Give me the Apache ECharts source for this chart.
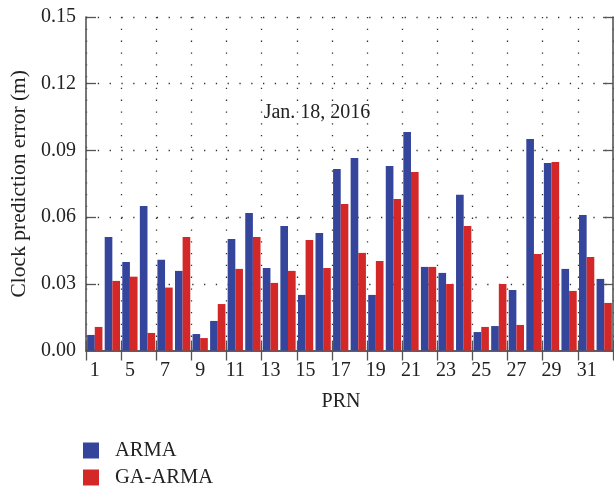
<!DOCTYPE html>
<html>
<head>
<meta charset="utf-8">
<script src="https://cdn.jsdelivr.net/npm/echarts@6/dist/echarts.min.js"></script>
<style>html,body{margin:0;padding:0;background:#fff;}#c{width:614px;height:486px;}</style>
</head>
<body>
<div id="c"></div>
<script>
const categories = ['1','3','5','6','7','8','9','10','11','12','13','14','15','16','17','18','19','20','21','22','23','24','25','26','27','28','29','30','31','32'];
const arma = [0.0070,0.0510,0.0398,0.0650,0.0408,0.0358,0.0074,0.0133,0.0502,0.0619,0.0371,0.0560,0.0250,0.0529,0.0816,0.0866,0.0250,0.0830,0.0983,0.0376,0.0349,0.0700,0.0083,0.0110,0.0272,0.0951,0.0843,0.0367,0.0610,0.0322];
const gaArma = [0.0106,0.0313,0.0332,0.0079,0.0283,0.0510,0.0056,0.0209,0.0367,0.0511,0.0304,0.0358,0.0497,0.0371,0.0659,0.0439,0.0403,0.0681,0.0803,0.0376,0.0299,0.0560,0.0106,0.0299,0.0115,0.0434,0.0848,0.0268,0.0420,0.0214];
const yTicks = [0, 0.03, 0.06, 0.09, 0.12, 0.15];

const FONT = 'Liberation Serif';
const AXIS = '#555';
const DOT = {color: '#333', width: 1.3, type: [1.3, 10.5]};
const legendCommon = {
  orient: 'vertical', left: 83, itemWidth: 16, itemHeight: 16, padding: 0,
  icon: 'rect',
  textStyle: {fontFamily: FONT, fontSize: 20.5, color: '#222', padding: [0, 0, 0, 11]}
};

const chart = echarts.init(document.getElementById('c'), null, {renderer: 'canvas'});
chart.setOption({
  animation: false,
  backgroundColor: '#fff',
  textStyle: {fontFamily: FONT},
  grid: {left: 85, right: 1, top: 17, bottom: 135.5, containLabel: false},
  legend: [
    Object.assign({top: 440, data: ['ARMA']}, legendCommon),
    Object.assign({top: 467, data: ['GA-ARMA']}, legendCommon)
  ],
  graphic: [
    {type: 'text', x: 317, y: 113, style: {text: 'Jan. 18, 2016', font: '20px "Liberation Serif"', fill: '#222', align: 'center', verticalAlign: 'middle'}},
    {type: 'text', x: 341, y: 402, style: {text: 'PRN', font: '20px "Liberation Serif"', fill: '#222', align: 'center', verticalAlign: 'middle'}}
  ],
  xAxis: [
    {
      type: 'category', data: categories, boundaryGap: true, position: 'bottom',
      axisLine: {lineStyle: {color: AXIS, width: 1.6}},
      axisTick: {show: true, inside: true, interval: 1, length: 10, lineStyle: {color: AXIS, width: 1.3}},
      axisLabel: {interval: 1, margin: 10, fontFamily: FONT, fontSize: 20, color: '#222'},
      splitLine: {show: true, interval: 1, lineStyle: DOT}
    },
    {
      type: 'category', data: categories, boundaryGap: true, position: 'top',
      axisLine: {lineStyle: {color: AXIS, width: 1.6}},
      axisTick: {show: true, inside: true, interval: 1, length: 10, lineStyle: {color: AXIS, width: 1.3}},
      axisLabel: {show: false},
      splitLine: {show: false}
    }
  ],
  yAxis: [
    {
      type: 'value', min: 0, max: 0.15, interval: 0.03, position: 'left',
      name: 'Clock prediction error (m)', nameLocation: 'middle', nameGap: 56, nameRotate: 90,
      nameTextStyle: {fontFamily: FONT, fontSize: 21.5, color: '#222'},
      axisLine: {show: true, lineStyle: {color: AXIS, width: 1.6}},
      axisTick: {show: true, inside: true, length: 10, lineStyle: {color: AXIS, width: 1.3}},
      axisLabel: {margin: 10, fontFamily: FONT, fontSize: 20, color: '#222',
        formatter: v => { const t = yTicks.find(x => Math.abs(x - v) < 1e-9); return (t !== undefined ? t : v).toFixed(2); }},
      splitLine: {show: true, lineStyle: DOT}
    },
    {
      type: 'value', min: 0, max: 0.15, interval: 0.03, position: 'right',
      axisLine: {show: true, lineStyle: {color: AXIS, width: 1.6}},
      axisTick: {show: true, inside: true, length: 10, lineStyle: {color: AXIS, width: 1.3}},
      axisLabel: {show: false},
      splitLine: {show: false}
    }
  ],
  series: [
    {name: 'ARMA', type: 'bar', data: arma, barGap: '0%', barCategoryGap: '13%', itemStyle: {color: '#34459b'}},
    {name: 'GA-ARMA', type: 'bar', data: gaArma, barGap: '0%', barCategoryGap: '13%', itemStyle: {color: '#d42828'}}
  ]
});
</script>
</body>
</html>
